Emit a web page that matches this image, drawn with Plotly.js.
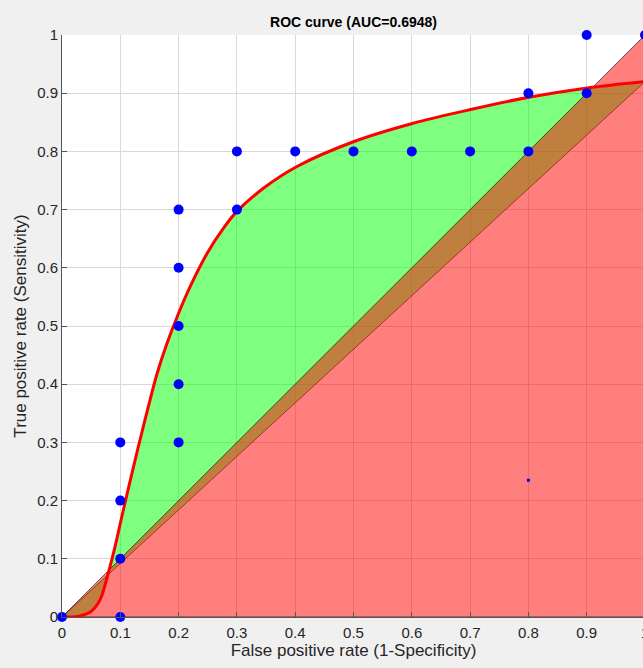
<!DOCTYPE html>
<html>
<head>
<meta charset="utf-8">
<script src="https://cdn.plot.ly/plotly-3.0.1.min.js"></script>
<style>
html,body{margin:0;padding:0;overflow:hidden;background:#f0f0f0;width:643px;height:668px;}
#chart{width:700px;height:668px;}
</style>
</head>
<body>
<div id="chart"></div>
<script>
// Observed ROC points (FPR, TPR)
const fpr = [0, 0.1, 0.1, 0.1, 0.1, 0.2, 0.2, 0.2, 0.2, 0.2, 0.3, 0.3, 0.4, 0.5, 0.6, 0.7, 0.8, 0.8, 0.9, 0.9, 1.0];
const tpr = [0, 0, 0.1, 0.2, 0.3, 0.3, 0.4, 0.5, 0.6, 0.7, 0.7, 0.8, 0.8, 0.8, 0.8, 0.8, 0.8, 0.9, 0.9, 1.0, 1.0];

// Fitted smooth ROC curve
const fitX = [0, 0.015, 0.031, 0.048, 0.065, 0.080, 0.091, 0.105, 0.120, 0.134, 0.148, 0.163, 0.180, 0.200, 0.220, 0.249, 0.277, 0.300, 0.346, 0.403, 0.501, 0.601, 0.701, 0.801, 0.901, 1.0];
const fitY = [0, 0.0, 0.002, 0.008, 0.029, 0.078, 0.121, 0.183, 0.247, 0.305, 0.361, 0.418, 0.470, 0.522, 0.568, 0.625, 0.668, 0.697, 0.737, 0.774, 0.817, 0.848, 0.872, 0.893, 0.909, 0.920];

// Chance diagonal triangle
const diagX = [0, 1, 1, 0];
const diagY = [0, 0, 1, 0];

// Small marker
const optX = [0.8];
const optY = [0.235];

const tickVals = [0, 0.1, 0.2, 0.3, 0.4, 0.5, 0.6, 0.7, 0.8, 0.9, 1];
const tickText = ['0', '0.1', '0.2', '0.3', '0.4', '0.5', '0.6', '0.7', '0.8', '0.9', '1'];

const titleText = 'ROC curve (AUC=0.6948)';
const xTitle = 'False positive rate (1-Specificity)';
const yTitle = 'True positive rate (Sensitivity)';

const FONT = 'Liberation Sans, Arial, sans-serif';
const last = fitX.length - 1;

const traces = [
  { // chord from curve start to curve end
    x: [fitX[0], fitX[last]], y: [fitY[0], fitY[last]],
    mode: 'lines', line: {color: '#000000', width: 0.6},
    hoverinfo: 'skip', showlegend: false
  },
  { // green region between fitted curve and chord
    x: fitX, y: fitY,
    mode: 'lines', fill: 'tonexty', fillcolor: 'rgba(0,255,0,0.5)',
    line: {color: '#000000', width: 0.6, shape: 'spline', smoothing: 1},
    hoverinfo: 'skip', showlegend: false
  },
  { // red region under diagonal
    x: diagX, y: diagY,
    mode: 'lines', fill: 'toself', fillcolor: 'rgba(255,0,0,0.5)',
    line: {color: '#000000', width: 0.6},
    hoverinfo: 'skip', showlegend: false
  },
  { // fitted curve
    x: fitX, y: fitY, mode: 'lines',
    line: {color: '#ff0000', width: 3, shape: 'spline', smoothing: 1},
    showlegend: false
  },
  { // data points
    x: fpr, y: tpr, mode: 'markers',
    marker: {color: '#0000ff', size: 10},
    showlegend: false, cliponaxis: false
  },
  {
    x: optX, y: optY, mode: 'markers',
    marker: {color: '#0000ff', size: 3, symbol: 'square'},
    showlegend: false
  }
];

const axisCommon = {
  range: [0, 1], tickvals: tickVals, ticktext: tickText,
  showgrid: true, gridcolor: '#d9d9d9', gridwidth: 1,
  zeroline: false, showline: true, linecolor: '#555555', linewidth: 1,
  ticks: 'inside', ticklen: 5, tickcolor: '#555555',
  tickfont: {family: FONT, size: 15, color: '#262626'},
  fixedrange: true
};

const layout = {
  width: 700, height: 668,
  margin: {l: 62, r: 55, t: 35, b: 51},
  paper_bgcolor: '#f0f0f0', plot_bgcolor: '#ffffff',
  title: {
    text: '<b>' + titleText + '</b>',
    font: {family: FONT, size: 14, color: '#000000'},
    x: 0.5, xref: 'paper', y: 1 - 22/668, yref: 'container', yanchor: 'middle'
  },
  xaxis: Object.assign({}, axisCommon, {
    ticklabelstandoff: 2,
    title: {text: xTitle, font: {family: FONT, size: 17, color: '#262626'}, standoff: 2}
  }),
  yaxis: Object.assign({}, axisCommon, {
    title: {text: yTitle, font: {family: FONT, size: 17, color: '#262626'}, standoff: 6}
  }),
  showlegend: false
};

Plotly.newPlot('chart', traces, layout, {displayModeBar: false, staticPlot: true});
</script>
</body>
</html>
